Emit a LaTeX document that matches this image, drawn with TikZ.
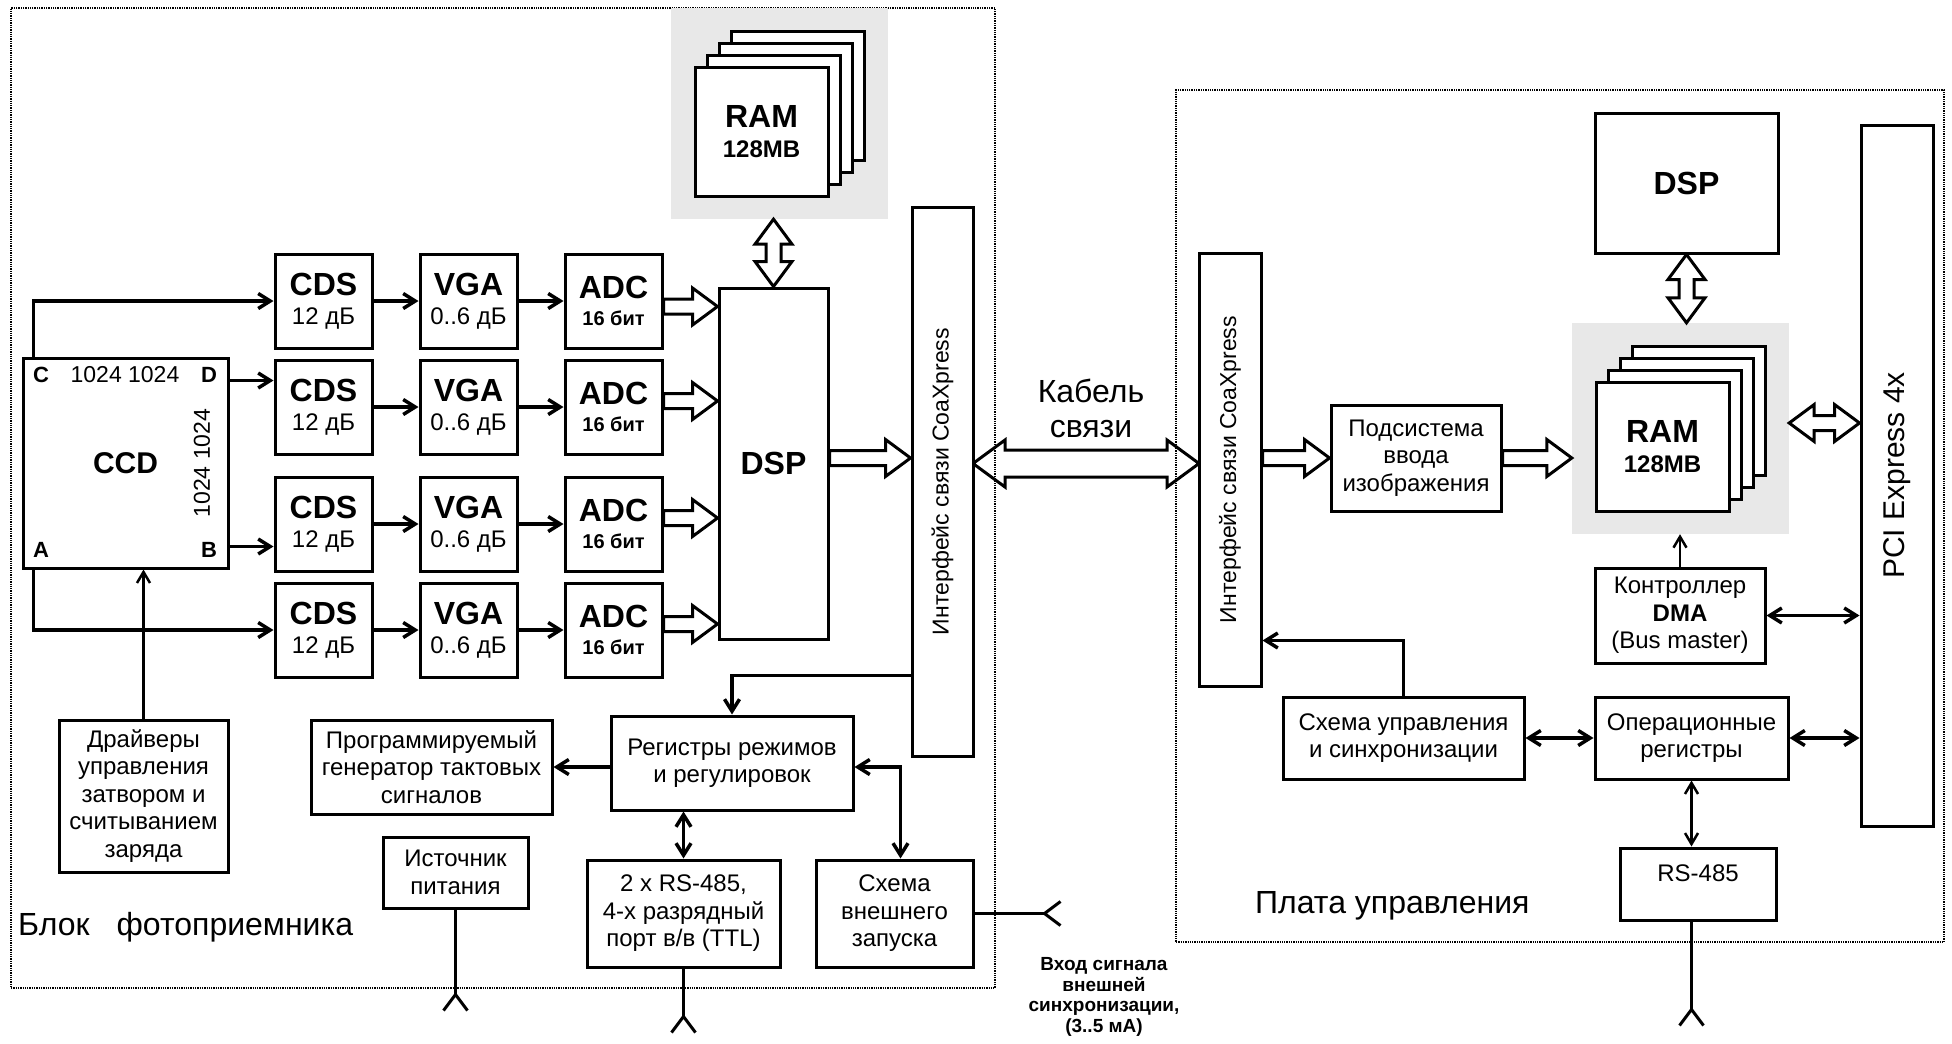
\documentclass[tikz,border=0pt]{standalone}
\usepackage{fontspec}
\setmainfont{Liberation Sans}
\usetikzlibrary{arrows.meta, positioning, calc}

\definecolor{ramgray}{gray}{0.91}

\newcommand{\bname}[1]{{\fontsize{32}{34}\selectfont\bfseries #1}}
\newcommand{\sbname}[1]{{\fontsize{20}{22}\selectfont\bfseries #1}}
\newcommand{\fatS}{7.5pt}
\newcommand{\fatH}{18.5pt}
\newcommand{\fatL}{25pt}
% hollow bus arrows
\newcommand{\fatright}[2]{%
  \draw[fat] let \p1=(#1), \p2=(#2) in
    (\x1,\y1+\fatS) -- (\x2-\fatL,\y1+\fatS) -- (\x2-\fatL,\y1+\fatH) -- (\x2,\y1)
    -- (\x2-\fatL,\y1-\fatH) -- (\x2-\fatL,\y1-\fatS) -- (\x1,\y1-\fatS) -- cycle;}
\newcommand{\fatboth}[2]{%
  \draw[fat] let \p1=(#1), \p2=(#2) in
    (\x1,\y1) -- (\x1+\fatL,\y1+\fatH) -- (\x1+\fatL,\y1+\fatS) -- (\x2-\fatL,\y1+\fatS)
    -- (\x2-\fatL,\y1+\fatH) -- (\x2,\y1) -- (\x2-\fatL,\y1-\fatH) -- (\x2-\fatL,\y1-\fatS)
    -- (\x1+\fatL,\y1-\fatS) -- (\x1+\fatL,\y1-\fatH) -- cycle;}
\newcommand{\fatbothv}[2]{%
  \draw[fat] let \p1=(#1), \p2=(#2) in
    (\x1,\y1) -- (\x1+\fatH,\y1-\fatL) -- (\x1+\fatS,\y1-\fatL) -- (\x1+\fatS,\y2+\fatL)
    -- (\x1+\fatH,\y2+\fatL) -- (\x1,\y2) -- (\x1-\fatH,\y2+\fatL) -- (\x1-\fatS,\y2+\fatL)
    -- (\x1-\fatS,\y1-\fatL) -- (\x1-\fatH,\y1-\fatL) -- cycle;}

\tikzstyle{block}     = [rectangle, draw=black, line width=3pt, fill=white,
                         align=center, inner sep=0pt,
                         font=\fontsize{24}{27.5}\selectfont]
\tikzstyle{stage}     = [block, minimum width=97pt, minimum height=94pt]
\tikzstyle{ramcard}   = [block, minimum width=133pt, minimum height=129pt]
\tikzstyle{ramarea}   = [rectangle, fill=ramgray, minimum width=217pt,
                         minimum height=211pt, inner sep=0pt]
\tikzstyle{dotframe}  = [rectangle, draw=black, densely dotted, line width=1.3pt,
                         inner sep=0pt]
\tikzstyle{ccdmark}   = [font=\fontsize{22}{24}\selectfont\bfseries, inner sep=0pt]
\tikzstyle{caption}   = [font=\fontsize{32}{35}\selectfont, align=center, inner sep=0pt]
\tikzstyle{arrow}     = [-{Straight Barb[length=12pt,width=15pt]}, line width=3.5pt]
\tikzstyle{darrow}    = [{Straight Barb[length=12pt,width=15pt]}-{Straight Barb[length=12pt,width=15pt]},
                         line width=3.5pt]
\tikzstyle{thinarrow} = [-{Straight Barb[length=11pt,width=13pt]}, line width=2.5pt]
\tikzstyle{thindarrow}= [{Straight Barb[length=11pt,width=13pt]}-{Straight Barb[length=11pt,width=13pt]},
                         line width=2.5pt]
\tikzstyle{wire}      = [line width=3pt]
\tikzstyle{fat}       = [draw=black, line width=3pt, fill=white, line join=miter]
\tikzset{plugfork/.pic={\draw[wire] (-12,16) -- (0,0) -- (12,16);}}

\begin{document}
\begin{tikzpicture}[x=1pt, y=-1pt]
  \useasboundingbox (0,0) rectangle (1952,1044);

  % cable first, so the frames show through it
  {\renewcommand{\fatS}{13.5pt}\renewcommand{\fatH}{23.5pt}\renewcommand{\fatL}{32pt}
   \coordinate (cableL) at (973,463.5);
   \coordinate (cableR) at (1199,463.5);
   \draw[fat, fill=none] let \p1=(cableL), \p2=(cableR) in
    (\x1,\y1) -- (\x1+\fatL,\y1+\fatH) -- (\x1+\fatL,\y1+\fatS) -- (\x2-\fatL,\y1+\fatS)
    -- (\x2-\fatL,\y1+\fatH) -- (\x2,\y1) -- (\x2-\fatL,\y1-\fatH) -- (\x2-\fatL,\y1-\fatS)
    -- (\x1+\fatL,\y1-\fatS) -- (\x1+\fatL,\y1-\fatH) -- cycle;}

  \node[dotframe, minimum width=984pt, minimum height=980pt] (camblock) at (503,498) {};
  \node[dotframe, minimum width=768pt, minimum height=852pt] (ctrlboard) at (1560,516) {};
  \node[caption, anchor=base west] (camlabel) at (18,935) {Блок\hspace{27pt}фотоприемника};
  \node[caption, anchor=base west] (ctrllabel) at (1255,913) {Плата управления};
  \node[caption] (cablelabel) at (1091,408) {Кабель\\связи};
  \node[align=center, inner sep=0pt, font=\fontsize{19}{20.7}\selectfont\bfseries]
    (inlabel) at (1104,997) {Вход сигнала\\внешней\\синхронизации,\\(3..5 мА)};

  % camera head
  \node[ramarea] (ramarea1) at (779.5,113.5) {};
  \node[ramcard] (ram1c) at (797.5,95.5) {};
  \node[ramcard] (ram1b) at (785.5,107.5) {};
  \node[ramcard] (ram1a) at (773.5,119.5) {};
  \node[ramcard] (ram1) at (761.5,131.5) {\bname{RAM}\\[3pt]{\fontsize{24}{26}\selectfont\bfseries 128MB}};

  \node[block, minimum width=205pt, minimum height=210pt,
        font=\fontsize{30}{32}\selectfont\bfseries] (ccd) at (125.5,463) {CCD};
  \node[ccdmark] (markC) at (41,375) {C};
  \node[ccdmark] (markD) at (209,375) {D};
  \node[ccdmark] (markA) at (41,550) {A};
  \node[ccdmark] (markB) at (209,550) {B};
  \node[inner sep=0pt, font=\fontsize{23}{25}\selectfont] (ccdtop) at (125,375) {1024 1024};
  \node[inner sep=0pt, font=\fontsize{23}{25}\selectfont, rotate=90] (ccdside) at (202,463) {1024 1024};

  \node[stage] (cds1) at (323.5,301) {\bname{CDS}\\[2pt]12 дБ};
  \node[stage, right=45pt of cds1] (vga1) {\bname{VGA}\\[2pt]0..6 дБ};
  \node[stage, right=45pt of vga1] (adc1) {\bname{ADC}\\\sbname{16 бит}};
  \node[stage, below=9pt of cds1] (cds2) {\bname{CDS}\\[2pt]12 дБ};
  \node[stage, right=45pt of cds2] (vga2) {\bname{VGA}\\[2pt]0..6 дБ};
  \node[stage, right=45pt of vga2] (adc2) {\bname{ADC}\\\sbname{16 бит}};
  \node[stage, below=20pt of cds2] (cds3) {\bname{CDS}\\[2pt]12 дБ};
  \node[stage, right=45pt of cds3] (vga3) {\bname{VGA}\\[2pt]0..6 дБ};
  \node[stage, right=45pt of vga3] (adc3) {\bname{ADC}\\\sbname{16 бит}};
  \node[stage, below=9pt of cds3] (cds4) {\bname{CDS}\\[2pt]12 дБ};
  \node[stage, right=45pt of cds4] (vga4) {\bname{VGA}\\[2pt]0..6 дБ};
  \node[stage, right=45pt of vga4] (adc4) {\bname{ADC}\\\sbname{16 бит}};

  \node[block, minimum width=109pt, minimum height=351pt] (dsp1) at (773.5,463.5) {\bname{DSP}};
  \node[block, minimum width=61pt, minimum height=549pt, font=\fontsize{23}{25}\selectfont]
    (cxp1) at (942.5,481.5) {\rotatebox{90}{Интерфейс связи CoaXpress}};

  \node[block, minimum width=169pt, minimum height=152pt] (drv) at (143.5,796)
    {Драйверы\\управления\\затвором и\\считыванием\\заряда};
  \node[block, minimum width=241pt, minimum height=94pt] (clkgen) at (431.5,767)
    {Программируемый\\генератор тактовых\\сигналов};
  \node[block, minimum width=242pt, minimum height=94pt] (regs) at (732,763)
    {Регистры режимов\\и регулировок};
  \node[block, minimum width=145pt, minimum height=71pt] (pwr) at (455.5,872.5) {Источник\\питания};
  \node[block, minimum width=193pt, minimum height=107pt] (port) at (683.5,913.5)
    {2 x RS-485,\\4-х разрядный\\порт в/в (TTL)};
  \node[block, minimum width=157pt, minimum height=107pt] (trig) at (894.5,913.5)
    {Схема\\внешнего\\запуска};

  % control board
  \node[ramarea] (ramarea2) at (1680.5,428.5) {};
  \node[ramcard] (ram2c) at (1698.5,410.5) {};
  \node[ramcard] (ram2b) at (1686.5,422.5) {};
  \node[ramcard] (ram2a) at (1674.5,434.5) {};
  \node[ramcard] (ram2) at (1662.5,446.5) {\bname{RAM}\\[3pt]{\fontsize{24}{26}\selectfont\bfseries 128MB}};

  \node[block, minimum width=62pt, minimum height=433pt, font=\fontsize{23}{25}\selectfont]
    (cxp2) at (1230,469.5) {\rotatebox{90}{Интерфейс связи CoaXpress}};
  \node[block, minimum width=170pt, minimum height=106pt] (sub) at (1416,458)
    {Подсистема\\ввода\\изображения};
  \node[block, minimum width=183pt, minimum height=140pt] (dsp2) at (1686.5,183) {\bname{DSP}};
  \node[block, minimum width=72pt, minimum height=701pt, font=\fontsize{30}{32}\selectfont]
    (pci) at (1897,475.5) {\rotatebox{90}{PCI Express 4x}};
  \node[block, minimum width=170pt, minimum height=95pt] (dma) at (1680,615.5)
    {Контроллер\\\textbf{DMA}\\(Bus master)};
  \node[block, minimum width=241pt, minimum height=82pt] (sync) at (1403.5,738)
    {Схема управления\\и синхронизации};
  \node[block, minimum width=193pt, minimum height=82pt] (opreg) at (1691.5,738)
    {Операционные\\регистры};
  \node[block, minimum width=156pt, minimum height=72pt, text depth=22pt] (rs485) at (1698,884) {RS-485};

  % camera head links
  \coordinate (ccdD) at ([yshift=-24pt]ccd.north east);
  \coordinate (ccdB) at ([yshift=23pt]ccd.south east);
  \draw[arrow] ([xshift=12pt]ccd.north west) |- (cds1.west);
  \draw[arrow] (ccdD) -- (ccdD -| cds2.west);
  \draw[arrow] (ccdB) -- (ccdB -| cds3.west);
  \draw[arrow] ([xshift=12pt]ccd.south west) |- (cds4.west);
  \draw[thinarrow] (drv.north) -- (drv.north |- ccd.south);

  \draw[arrow] (cds1) -- (vga1);
  \draw[arrow] (vga1) -- (adc1);
  \draw[arrow] (cds2) -- (vga2);
  \draw[arrow] (vga2) -- (adc2);
  \draw[arrow] (cds3) -- (vga3);
  \draw[arrow] (vga3) -- (adc3);
  \draw[arrow] (cds4) -- (vga4);
  \draw[arrow] (vga4) -- (adc4);

  \fatright{[yshift=-5.5pt]adc1.east}{dsp1.west}
  \fatright{[yshift=6pt]adc2.east}{dsp1.west}
  \fatright{[yshift=6pt]adc3.east}{dsp1.west}
  \fatright{[yshift=6pt]adc4.east}{dsp1.west}
  \fatright{[yshift=5.5pt]dsp1.east}{cxp1.west}
  \fatbothv{dsp1.north |- ramarea1.south}{dsp1.north}

  \coordinate (cxpout) at ([yshift=82pt]cxp1.south west);
  \draw[arrow] (cxpout) -| (regs.north);
  \draw[arrow] (regs.west |- clkgen.east) -- (clkgen.east);
  \draw[darrow] (port.north |- regs.south) -- (port.north);
  \draw[darrow] (regs.east |- clkgen.east) -| ([xshift=6pt]trig.north);

  \coordinate (pwrplug) at ([yshift=-85pt]pwr.south);
  \coordinate (portplug) at ([yshift=-48pt]port.south);
  \coordinate (trigplug) at ([xshift=70pt]trig.east);
  \draw[wire] (pwr.south) -- (pwrplug);
  \draw[wire] (port.south) -- (portplug);
  \draw[wire] (trig.east) -- (trigplug);
  \pic at (pwrplug) {plugfork};
  \pic at (portplug) {plugfork};
  \pic[rotate=90] at (trigplug) {plugfork};

  % control board links
  \fatright{cxp2.east |- sub.west}{sub.west}
  \fatright{sub.east}{ramarea2.west}
  \fatboth{[yshift=5.5pt]ramarea2.east}{pci.west}
  \fatbothv{dsp2.south}{dsp2.south |- ramarea2.north}

  \draw[thinarrow] (dma.north) -- (dma.north |- ramarea2.south);
  \draw[darrow] (dma.east) -- (dma.east -| pci.west);
  \draw[darrow] (sync.east) -- (opreg.west);
  \draw[darrow] (opreg.east) -- (opreg.east -| pci.west);
  \coordinate (cxpin) at ([yshift=47pt]cxp2.south east);
  \draw[arrow] (sync.north) |- (cxpin);
  \draw[thindarrow] (opreg.south) -- (opreg.south |- rs485.north);
  \coordinate (rsplug) at ([yshift=-88pt]opreg.south |- rs485.south);
  \draw[wire] (opreg.south |- rs485.south) -- (rsplug);
  \pic at (rsplug) {plugfork};

\end{tikzpicture}
\end{document}
